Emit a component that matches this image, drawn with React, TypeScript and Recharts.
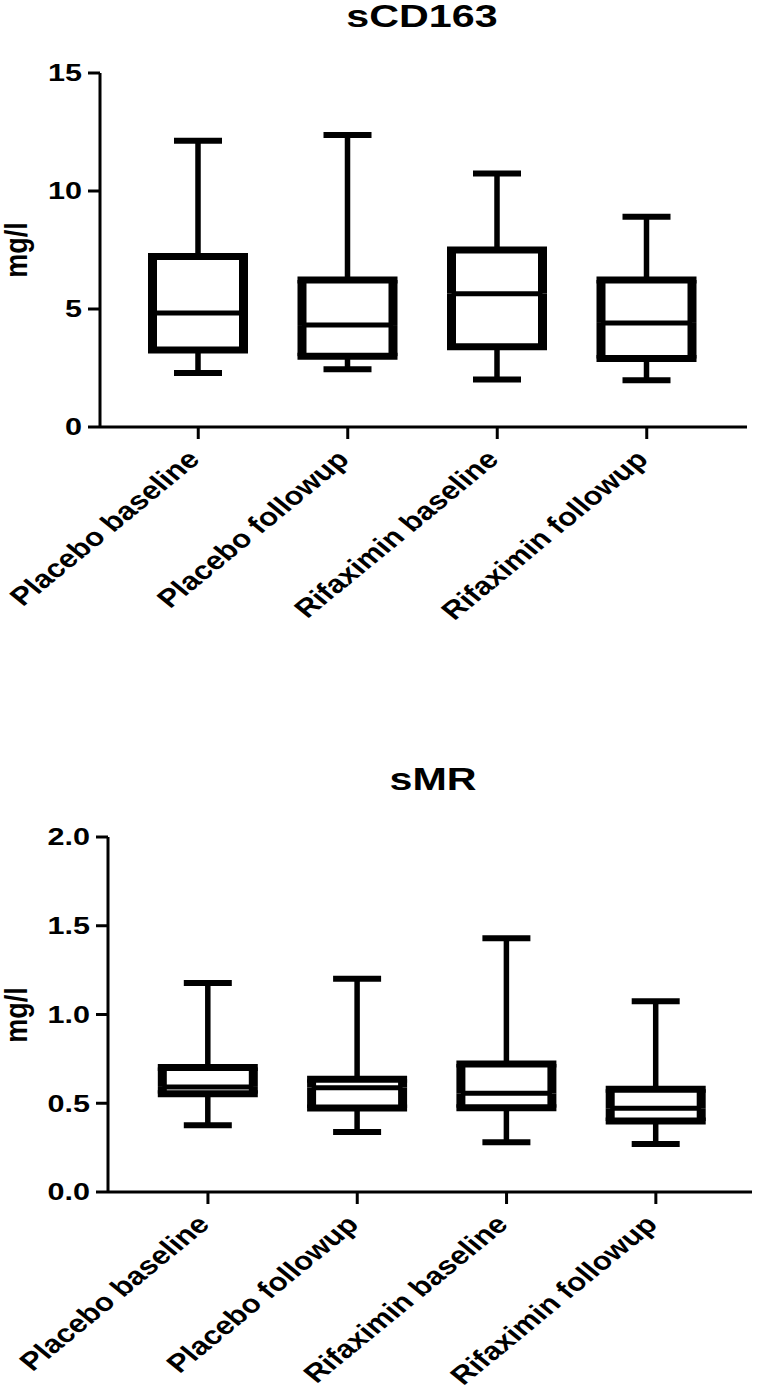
import { ComposedChart, Bar, XAxis, YAxis } from 'recharts';

const GROUPS = ['Placebo baseline', 'Placebo followup', 'Rifaximin baseline', 'Rifaximin followup'];

// sCD163 (mg/l) box plot values
const CD163_MIN = [2.29, 2.45, 2.01, 1.98];
const CD163_Q1 = [3.26, 3.0, 3.4, 2.9];
const CD163_MEDIAN = [4.83, 4.32, 5.65, 4.41];
const CD163_Q3 = [7.22, 6.23, 7.5, 6.23];
const CD163_MAX = [12.13, 12.37, 10.74, 8.91];
const CD163_TICKS = [0, 5, 10, 15];

// sMR (mg/l) box plot values
const SMR_MIN = [0.376, 0.338, 0.28, 0.27];
const SMR_Q1 = [0.554, 0.473, 0.475, 0.4];
const SMR_MEDIAN = [0.592, 0.588, 0.556, 0.472];
const SMR_Q3 = [0.702, 0.635, 0.721, 0.579];
const SMR_MAX = [1.177, 1.202, 1.429, 1.074];
const SMR_TICKS = [0, 0.5, 1.0, 1.5, 2.0];

const FONT = '"Liberation Sans", Arial, sans-serif';
const STRETCH = 1.33;
const X_STRETCH = 1.22;

// stacked deltas for the box plot
function buildRows(mins: number[], q1: number[], med: number[], q3: number[], maxs: number[]) {
  return GROUPS.map((name, i) => ({
    name,
    base: mins[i],
    wLow: q1[i] - mins[i],
    bLow: med[i] - q1[i],
    bHigh: q3[i] - med[i],
    wHigh: maxs[i] - q3[i],
  }));
}

const CAP = 24;

const WhiskerLow = (p: any) => {
  const cx = p.x + p.width / 2;
  return (
    <g>
      <line x1={cx} x2={cx} y1={p.y} y2={p.y + p.height} stroke="#000" strokeWidth={5.5} />
      <line x1={cx - CAP} x2={cx + CAP} y1={p.y + p.height} y2={p.y + p.height} stroke="#000" strokeWidth={6} />
    </g>
  );
};

const WhiskerHigh = (p: any) => {
  const cx = p.x + p.width / 2;
  return (
    <g>
      <line x1={cx} x2={cx} y1={p.y} y2={p.y + p.height} stroke="#000" strokeWidth={5.5} />
      <line x1={cx - CAP} x2={cx + CAP} y1={p.y} y2={p.y} stroke="#000" strokeWidth={6} />
    </g>
  );
};

const BoxLow = (p: any) => {
  const l = p.x, r = p.x + p.width, t = p.y, b = p.y + p.height;
  return (
    <g>
      <line x1={l} x2={l} y1={t} y2={b} stroke="#000" strokeWidth={9} />
      <line x1={r} x2={r} y1={t} y2={b} stroke="#000" strokeWidth={9} />
      <line x1={l - 4.5} x2={r + 4.5} y1={b} y2={b} stroke="#000" strokeWidth={7} />
      <line x1={l} x2={r} y1={t} y2={t} stroke="#000" strokeWidth={5} />
    </g>
  );
};

const BoxHigh = (p: any) => {
  const l = p.x, r = p.x + p.width, t = p.y, b = p.y + p.height;
  return (
    <g>
      <line x1={l} x2={l} y1={t} y2={b} stroke="#000" strokeWidth={9} />
      <line x1={r} x2={r} y1={t} y2={b} stroke="#000" strokeWidth={9} />
      <line x1={l - 4.5} x2={r + 4.5} y1={t} y2={t} stroke="#000" strokeWidth={7} />
    </g>
  );
};

const Nothing = () => <g />;

const YTick = (decimals: number) => (p: any) => (
  <g transform={`translate(${p.x},${p.y})`}>
    <text
      transform={`scale(${STRETCH},1)`}
      textAnchor="end"
      dy="0.36em"
      fontSize={23}
      fontWeight="bold"
      fontFamily={FONT}
      fill="#000"
    >
      {Number(p.payload.value).toFixed(decimals)}
    </text>
  </g>
);

const XTick = (p: any) => (
  <g transform={`translate(${p.x + 3},${p.y + 20}) scale(${X_STRETCH},1) rotate(-45)`}>
    <text textAnchor="end" fontSize={25.5} fontWeight="bold" fontFamily={FONT} fill="#000">
      {p.payload.value}
    </text>
  </g>
);

type PanelProps = {
  top: number;
  height: number;
  rows: any[];
  domain: [number, number];
  ticks: number[];
  decimals: number;
  yWidth: number;
  margin: { top: number; right: number; bottom: number; left: number };
  padding: { left: number; right: number };
};

function BoxPanel(props: PanelProps) {
  const { top, height, rows, domain, ticks, decimals, yWidth, margin, padding } = props;
  return (
    <div style={{ position: 'absolute', left: 0, top }}>
      <ComposedChart width={761} height={height} data={rows} margin={margin} barSize={91}>
        <XAxis
          dataKey="name"
          type="category"
          height={180}
          interval={0}
          padding={padding}
          tickSize={12}
          axisLine={{ stroke: '#000', strokeWidth: 3 }}
          tickLine={{ stroke: '#000', strokeWidth: 3 }}
          tick={XTick}
        />
        <YAxis
          type="number"
          domain={domain}
          ticks={ticks}
          width={yWidth}
          tickSize={12}
          tickMargin={6}
          axisLine={{ stroke: '#000', strokeWidth: 3 }}
          tickLine={{ stroke: '#000', strokeWidth: 3 }}
          tick={YTick(decimals)}
        />
        <Bar dataKey="base" stackId="b" shape={Nothing} isAnimationActive={false} />
        <Bar dataKey="wLow" stackId="b" shape={WhiskerLow} isAnimationActive={false} />
        <Bar dataKey="bLow" stackId="b" shape={BoxLow} isAnimationActive={false} />
        <Bar dataKey="bHigh" stackId="b" shape={BoxHigh} isAnimationActive={false} />
        <Bar dataKey="wHigh" stackId="b" shape={WhiskerHigh} isAnimationActive={false} />
      </ComposedChart>
    </div>
  );
}

export default function App() {
  const cd163Rows = buildRows(CD163_MIN, CD163_Q1, CD163_MEDIAN, CD163_Q3, CD163_MAX);
  const smrRows = buildRows(SMR_MIN, SMR_Q1, SMR_MEDIAN, SMR_Q3, SMR_MAX);

  return (
    <div style={{ position: 'absolute', left: 0, top: 0, width: 761, height: 1394, background: '#fff' }}>
      <BoxPanel
        top={0}
        height={740}
        rows={cd163Rows}
        domain={[0, 15]}
        ticks={CD163_TICKS}
        decimals={0}
        yWidth={100}
        margin={{ top: 73, right: 14, bottom: 133, left: 0 }}
        padding={{ left: 23.5, right: 25.5 }}
      />
      <BoxPanel
        top={740}
        height={654}
        rows={smrRows}
        domain={[0, 2]}
        ticks={SMR_TICKS}
        decimals={1}
        yWidth={108}
        margin={{ top: 97, right: 9, bottom: 22, left: 0 }}
        padding={{ left: 25.3, right: 21.5 }}
      />
      {/* titles and y labels */}
      <svg width={761} height={1394} style={{ position: 'absolute', left: 0, top: 0, pointerEvents: 'none' }}>
        <g transform={`translate(422,27) scale(${STRETCH},1)`}>
          <text textAnchor="middle" fontSize={31} fontWeight="bold" fontFamily={FONT}>sCD163</text>
        </g>
        <g transform={`translate(433,790) scale(${STRETCH},1)`}>
          <text textAnchor="middle" fontSize={31} fontWeight="bold" fontFamily={FONT}>sMR</text>
        </g>
        <g transform="translate(27,250) scale(1.15,1) rotate(-90)">
          <text textAnchor="middle" fontSize={27} fontWeight="bold" fontFamily={FONT}>mg/l</text>
        </g>
        <g transform="translate(27,1015) scale(1.15,1) rotate(-90)">
          <text textAnchor="middle" fontSize={27} fontWeight="bold" fontFamily={FONT}>mg/l</text>
        </g>
      </svg>
    </div>
  );
}
